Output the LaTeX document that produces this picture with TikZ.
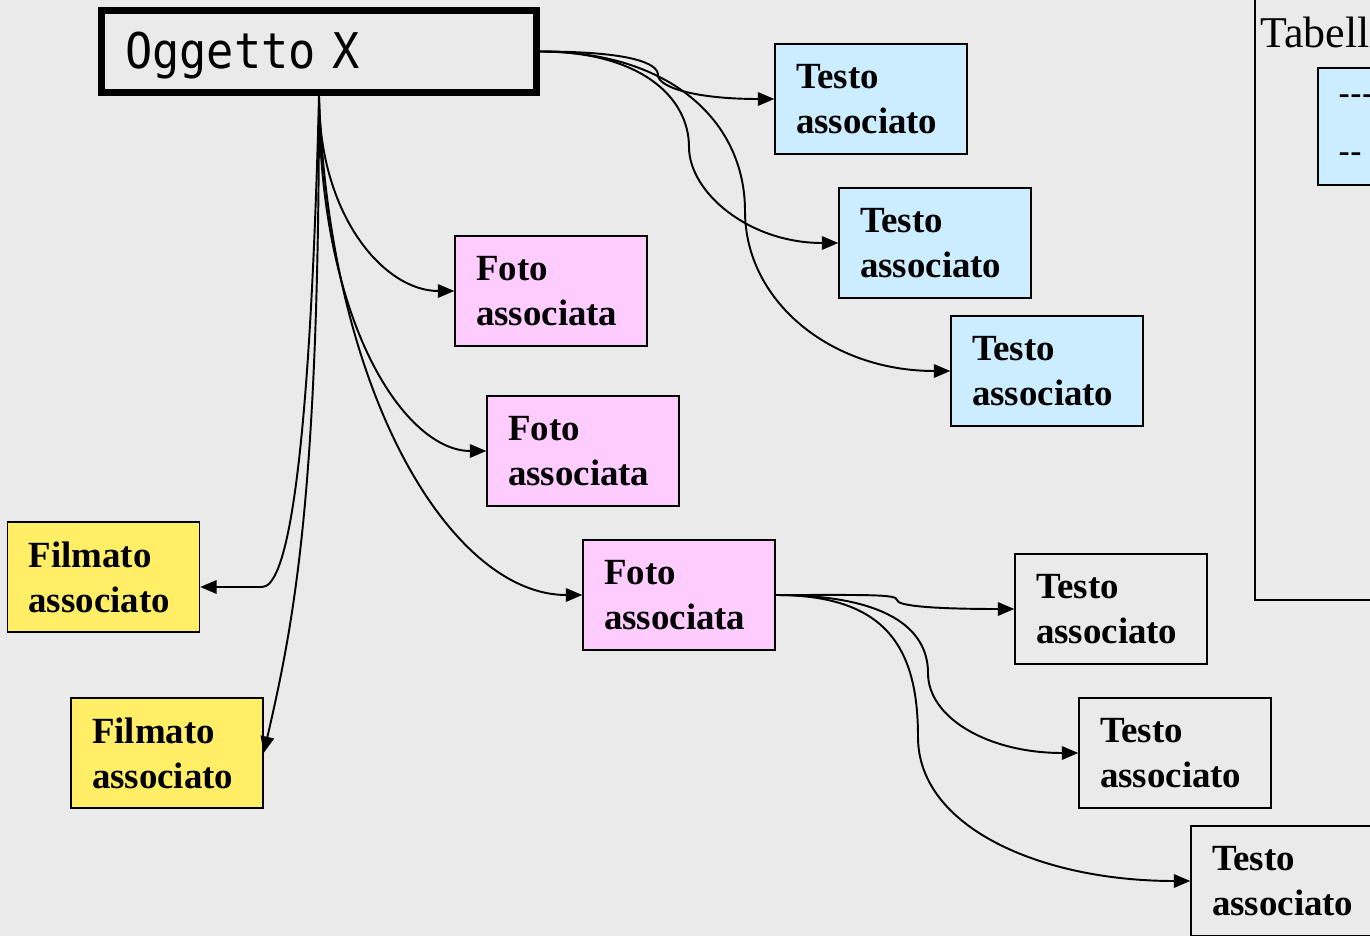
\documentclass[tikz,border=0pt]{standalone}
\usepackage{fontspec}
\usepackage{tikz}
\usetikzlibrary{arrows.meta}
\setmainfont{Liberation Serif}
\setsansfont{Liberation Sans}
\newfontfamily\oggfont[FakeStretch=0.92]{DejaVu Sans Mono}
\definecolor{sfondo}{HTML}{EAEAEA}
\definecolor{azzurro}{HTML}{CCECFF}
\definecolor{rosa}{HTML}{FFCCFF}
\definecolor{giallo}{HTML}{FFEE66}
\begin{document}
\begin{tikzpicture}[x=0.02cm,y=-0.02cm]
\tikzstyle{every node}+=[inner ysep=0pt]
\tikzstyle{box}=[draw=black, line width=0.8pt, inner xsep=0.42cm, text width=3cm,
  minimum height=2.2cm, align=left, font=\fontsize{21}{25.6}\selectfont\bfseries]
\tikzstyle{link}=[black, line width=1.1pt, -{Triangle[length=0.33cm,width=0.27cm]}]
\clip (0,0) rectangle (1370,936);
\fill [sfondo] (0,0) rectangle (1370,936);
% tabella sulla destra
\draw [black, line width=0.8pt] (1255,-10) -- (1255,600) -- (1400,600);
\draw (1260,32) node [anchor=west, inner xsep=0pt] {\fontsize{25}{30}\selectfont Tabelle};
\draw [black, line width=0.8pt, fill=azzurro] (1318,68) rectangle (1400,185);
\draw (1338,100) node [anchor=west, inner xsep=0pt] {\sffamily\fontsize{20}{24}\selectfont -{}-{}-};
\draw (1338,158) node [anchor=west, inner xsep=0pt] {\sffamily\fontsize{20}{24}\selectfont -{}-};
% nodi
\node [draw=black, line width=4pt, minimum width=8.7cm, minimum height=1.64cm,
  inner xsep=0.47cm, text width=7.76cm, align=left,
  font=\oggfont\fontsize{28}{30}\selectfont] (ogg) at (319,51.5) {\raisebox{-0.35cm}[0pt][0pt]{Oggetto X}};
\node [box, fill=azzurro] (t1) at (871,99) {Testo\\associato};
\node [box, fill=azzurro] (t2) at (935,243) {Testo\\associato};
\node [box, fill=azzurro] (t3) at (1047,371) {Testo\\associato};
\node [box, fill=rosa] (p1) at (551,291) {Foto\\associata};
\node [box, fill=rosa] (p2) at (583,451) {Foto\\associata};
\node [box, fill=rosa] (p3) at (679,595) {Foto\\associata};
\node [box, fill=giallo] (f1) at (103.5,577) {Filmato\\associato};
\node [box, fill=giallo] (f2) at (167,753) {Filmato\\associato};
\node [box] (t4) at (1111,609) {Testo\\associato};
\node [box] (t5) at (1175,753) {Testo\\associato};
\node [box] (t6) at (1287,881) {Testo\\associato};
% punti di flesso
\coordinate (k1) at (658,75);
\coordinate (k2) at (689,147);
\coordinate (k3) at (745,211);
\coordinate (k4) at (897,600);
\coordinate (k5) at (928,673);
\coordinate (k6) at (918,737);
\coordinate (k7) at (262,587);
% collegamenti
\draw [link] (ogg.east) .. controls +(90,0) and +(0,-12) .. (k1) .. controls +(0,12) and +(-80,0) .. (t1.west);
\draw [link] (ogg.east) .. controls +(100,0) and +(0,-50) .. (k2) .. controls +(0,45) and +(-90,0) .. (t2.west);
\draw [link] (ogg.east) .. controls +(130,0) and +(0,-90) .. (k3) .. controls +(0,90) and +(-120,0) .. (t3.west);
\draw [link] (ogg.south) .. controls +(0,120) and +(-70,0) .. (p1.west);
\draw [link] (ogg.south) .. controls +(0,230) and +(-80,0) .. (p2.west);
\draw [link] (ogg.south) .. controls +(10,300) and +(-130,0) .. (p3.west);
\draw [link] (ogg.south) .. controls +(-10,400) and +(22,0) .. (k7) -- (f1.east |- k7);
\draw [link] (ogg.south) .. controls +(0,400) and +(30,-130) .. (f2.east);
\draw [link] (p3.east) .. controls +(90,0) and +(0,-6) .. (k4) .. controls +(0,6) and +(-80,0) .. (t4.west);
\draw [link] (p3.east) .. controls +(110,0) and +(0,-45) .. (k5) .. controls +(0,45) and +(-90,0) .. (t5.west);
\draw [link] (p3.east) .. controls +(110,0) and +(0,-90) .. (k6) .. controls +(0,90) and +(-150,0) .. (t6.west);
\end{tikzpicture}
\end{document}
